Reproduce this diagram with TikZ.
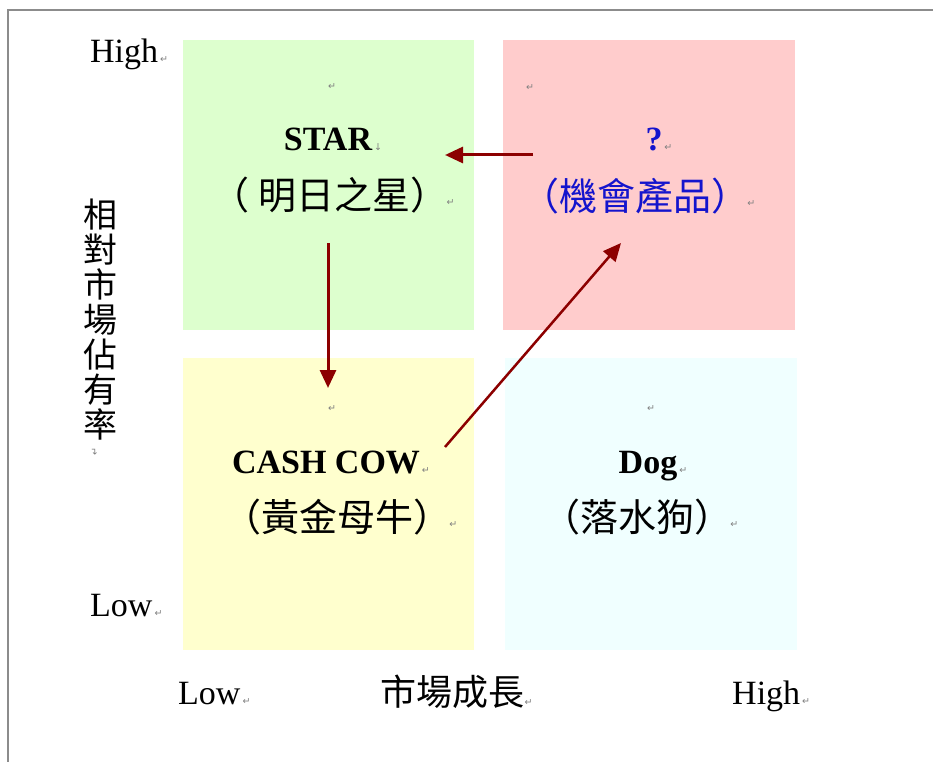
\documentclass[tikz,border=0pt]{standalone}
\usepackage{fontspec}
\setmainfont{Liberation Serif}
\newfontfamily\cjk{Noto Sans CJK TC}
\newfontfamily\markf{DejaVu Sans}
\usetikzlibrary{arrows.meta}
\definecolor{qgreen}{RGB}{221,255,206}
\definecolor{qpink}{RGB}{255,204,204}
\definecolor{qyellow}{RGB}{255,255,206}
\definecolor{qblue}{RGB}{240,255,255}
\definecolor{arrred}{RGB}{140,0,0}
\definecolor{qtxtblue}{RGB}{20,20,205}
\definecolor{framegray}{RGB}{140,140,140}
\begin{document}
\begin{tikzpicture}[x=1pt,y=-1pt,
  lat/.style={inner sep=0pt,anchor=base,font=\fontsize{34}{38}\selectfont},
  latb/.style={lat,font=\bfseries\fontsize{34}{38}\selectfont},
  cjkt/.style={inner sep=0pt,anchor=base,font=\cjk\fontsize{38}{42}\selectfont},
  pmark/.style={inner sep=0pt,anchor=base west,text=gray,font=\markf\fontsize{9.5}{10}\selectfont},
  flow/.style={draw=arrred,line width=3pt,-{Triangle[length=18pt,width=16pt]}}]
\useasboundingbox (0,0) rectangle (933,762);
\fill[white] (0,0) rectangle (933,762);
% frame
\draw[framegray,line width=2pt] (933,10) -- (8,10) -- (8,762);
% quadrants
\fill[qgreen]  (183,40)  rectangle (474,330);
\fill[qpink]   (503,40)  rectangle (795,330);
\fill[qyellow] (183,358) rectangle (474,650);
\fill[qblue]   (505,358) rectangle (797,650);
% axis labels
\node[lat,anchor=base west] (yhigh) at (90,63) {High};
\node[pmark] at (yhigh.base east) {\,↵};
\node[lat,anchor=base west] (ylow) at (90,616) {Low};
\node[pmark] at (ylow.base east) {\,↵};
\node[lat,anchor=base west] (xlow) at (178,704) {Low};
\node[pmark] at (xlow.base east) {\,↵};
\node[cjkt,anchor=base west,font=\cjk\fontsize{36}{40}\selectfont] (xlab) at (380,705) {市場成長};
\node[pmark] at (xlab.base east) {↵};
\node[lat,anchor=base west] (xhigh) at (732,704) {High};
\node[pmark] at (xhigh.base east) {\,↵};
\node[inner sep=0pt,align=center,font=\cjk\fontsize{34}{35}\selectfont] (ylab) at (100,320) {相\\對\\市\\場\\佔\\有\\率};
\node[inner sep=0pt,text=gray,font=\markf\fontsize{9.5}{10}\selectfont,rotate=90] (ylabmark) at (95,452) {↵};
% empty paragraph marks
\node[pmark] (m1) at (328,90) {↵};
\node[pmark] (m2) at (526,91) {↵};
\node[pmark] (m3) at (328,411) {↵};
\node[pmark] (m4) at (647,411) {↵};
% quadrant texts
\node[latb] (star) at (328,151) {STAR};
\node[pmark] at (star.base east) {\,↓};
\node[cjkt] (starcn) at (330,209) {（ 明日之星）};
\node[pmark] at ([xshift=-2pt,yshift=4pt]starcn.base east) {↵};
\node[latb,text=qtxtblue] (qm) at (654,151) {?};
\node[pmark] at (qm.base east) {\,↵};
\node[cjkt,text=qtxtblue] (qmcn) at (635,210) {（機會產品）};
\node[pmark] at ([xshift=-2pt,yshift=4pt]qmcn.base east) {↵};
\node[latb] (cow) at (326,473) {CASH COW};
\node[pmark] at (cow.base east) {\,↵};
\node[cjkt] (cowcn) at (337,531) {（黃金母牛）};
\node[pmark] at ([xshift=-2pt,yshift=4pt]cowcn.base east) {↵};
\node[latb] (dog) at (648,473) {Dog};
\node[pmark] at (dog.base east) {\,↵};
\node[cjkt] (dogcn) at (637,531) {（落水狗）};
\node[pmark] at ([xshift=-2pt,yshift=4pt]dogcn.base east) {↵};
% arrows
\coordinate (a1s) at (533,155); \coordinate (a1e) at (445,155);
\coordinate (a2s) at (328,243); \coordinate (a2e) at (328,388);
\coordinate (a3s) at (445,447); \coordinate (a3e) at (621,243);
\draw[flow] (a1s) -- (a1e);
\draw[flow] (a2s) -- (a2e);
\draw[flow,line width=2.5pt] (a3s) -- (a3e);
\end{tikzpicture}
\end{document}
